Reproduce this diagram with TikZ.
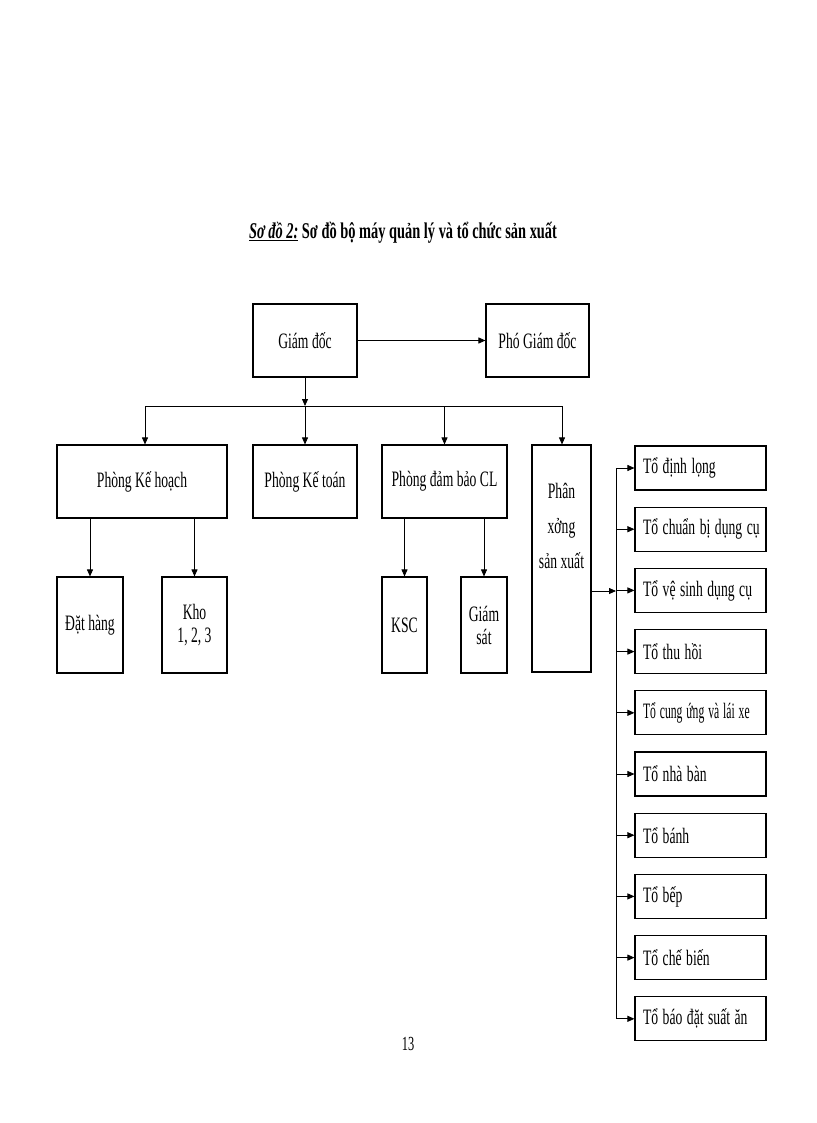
\documentclass[tikz,border=0pt]{standalone}
\usepackage{fontspec}
\usepackage{graphicx}
\setmainfont{Liberation Serif}
\newcommand\cx[1]{\scalebox{0.62}[1]{#1}}
\usetikzlibrary{arrows.meta}
\begin{document}
\begin{tikzpicture}[x=1pt,y=-1pt,
  box/.style={draw, line width=1.1pt, inner sep=0pt, font=\fontsize{22}{23}\selectfont, align=center},
  tobox/.style={draw, line width=1.1pt, inner ysep=0pt, inner xsep=8pt, text width=115pt, minimum height=44pt, align=left, font=\fontsize{22}{23}\selectfont},
  arr/.style={line width=0.8pt, -{Triangle[length=7pt,width=6pt]}},
  ln/.style={line width=0.8pt}]
\useasboundingbox (0,0) rectangle (816,1123);
\fill[white] (0,0) rectangle (816,1123);
% title
\node[font=\fontsize{22.5}{24}\selectfont\bfseries, anchor=base] (title) at (403,238)
  {\scalebox{0.64}[1]{\underline{\textit{Sơ đồ 2:}} Sơ đồ bộ máy quản lý và tổ chức sản xuất}};
% top
\node[box, minimum width=104pt, minimum height=73pt] (gd) at (305,340.5) {\cx{Giám đốc}};
\node[box, minimum width=103pt, minimum height=73pt] (pgd) at (537.5,340.5) {\cx{Phó Giám đốc}};
% second row
\node[box, minimum width=170pt, minimum height=73pt] (pkh) at (142,481.5) {\cx{Phòng Kế hoạch}};
\node[box, minimum width=104pt, minimum height=73pt] (pkt) at (305,481.5) {\cx{Phòng Kế toán}};
\node[box, minimum width=125pt, minimum height=73pt] (pdb) at (444.5,481.5) {\cx{Phòng đảm bảo CL}};
\node[box, minimum width=59pt, minimum height=227pt] (pxs) at (561.5,558.5) {};
\node[font=\fontsize{22}{35}\selectfont, align=center, inner sep=0pt] (pxsl) at (561.5,526) {\cx{Phân}\\\cx{xởng}\\\cx{sản xuất}};
% third row
\node[box, minimum width=66pt, minimum height=96pt] (dh) at (90,625) {\cx{Đặt hàng}};
\node[box, minimum width=65pt, minimum height=96pt] (kho) at (194.5,625) {\cx{Kho}\\\cx{1, 2, 3}};
\node[box, minimum width=45pt, minimum height=96pt] (ksc) at (404.5,625) {\cx{KSC}};
\node[box, minimum width=46pt, minimum height=96pt] (gs) at (484,625) {\cx{Giám}\\\cx{sát}};
% right column
\foreach \i/\s/\t in {1/0.62/Tổ định lọng, 2/0.62/Tổ chuẩn bị dụng cụ, 3/0.62/Tổ vệ sinh dụng cụ, 4/0.62/Tổ thu hồi,
  5/0.53/Tổ cung ứng và lái xe, 6/0.62/Tổ nhà bàn, 7/0.62/Tổ bánh, 8/0.62/Tổ bếp, 9/0.62/Tổ chế biến, 10/0.62/Tổ báo đặt suất ăn}
  \node[tobox] (t\i) at (700.5,{468+61.2*(\i-1)}) {\scalebox{\s}[1]{\t}};
% connectors
\draw[arr] (gd) -- (pgd);
\coordinate (busc) at (305,406);
\coordinate (busl) at (145,406);
\coordinate (busr) at (562,406);
\draw[arr] (gd.south) -- (busc);
\draw[ln] (busl) -- (busr);
\draw[arr] (busl) -- (busl |- pkh.north);
\draw[arr] (busc) -- (pkt.north);
\draw[arr] (pdb.north |- busc) -- (pdb.north);
\draw[arr] (busr) -- (busr |- pxs.north);
\draw[arr] (pkh.south -| dh.north) -- (dh.north);
\draw[arr] (pkh.south -| kho.north) -- (kho.north);
\draw[arr] (pdb.south -| ksc.north) -- (ksc.north);
\draw[arr] (pdb.south -| gs.north) -- (gs.north);
\coordinate (vb) at (616,591);
\draw[arr] (pxs.east |- vb) -- (vb);
\draw[ln] (vb |- t1.west) -- (vb |- t10.west);
\foreach \i in {1,...,10} \draw[arr] (vb |- t\i.west) -- (t\i.west);
% page number
\node[font=\fontsize{20}{22}\selectfont, anchor=base] (pg) at (408,1050) {\cx{13}};
\end{tikzpicture}
\end{document}
